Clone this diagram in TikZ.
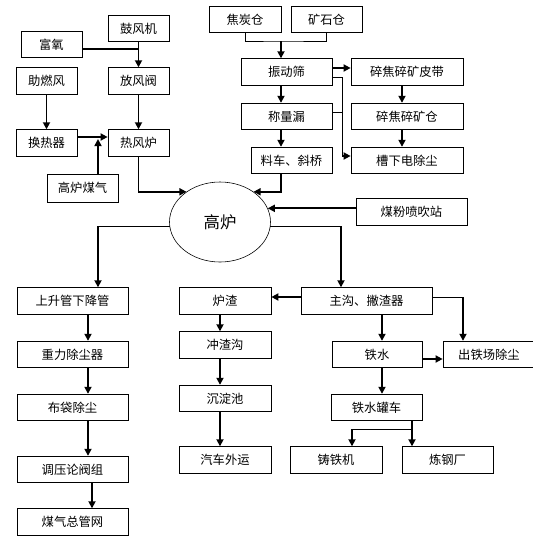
\documentclass[tikz,border=0pt]{standalone}
\usepackage{fontspec}
\newfontfamily\cjk{Noto Sans CJK SC}
\usetikzlibrary{arrows.meta,shapes.geometric}

\tikzset{
  box/.style={draw, line width=0.6pt, inner sep=0pt, minimum height=8mm,
    font=\cjk\fontsize{10.5}{12}\selectfont},
  arr/.style={line width=1.4pt, -{Triangle[length=6pt,width=6pt]}},
  bar/.style={line width=1.4pt},
  fine/.style={line width=0.6pt},
}

\begin{document}
\begin{tikzpicture}[x=0.03cm, y=-0.03cm]
  \useasboundingbox (0,0) rectangle (533,547);
  % hot blast
  \node[box, minimum width=18.3mm] (fuyang) at (51.5,44.5) {富氧};
  \node[box, minimum width=18.3mm] (gufengji) at (138.5,28.5) {鼓风机};
  \node[box, minimum width=18.3mm] (zhuranfeng) at (46.5,81) {助燃风};
  \node[box, minimum width=18.3mm] (fangfengfa) at (138.5,81) {放风阀};
  \node[box, minimum width=18.3mm] (huanreqi) at (46.5,143) {换热器};
  \node[box, minimum width=18.3mm] (refenglu) at (138.5,143) {热风炉};
  \node[box, minimum width=21.3mm, minimum height=8.4mm] (gaolumeiqi) at (82.5,188) {高炉煤气};
  % burden
  \node[box, minimum width=21.6mm] (jiaotan) at (245,19.5) {焦炭仓};
  \node[box, minimum width=21.3mm] (kuangshi) at (326.5,19.5) {矿石仓};
  \node[box, minimum width=27.3mm] (zhendong) at (286.5,72) {振动筛};
  \node[box, minimum width=27.3mm] (chengliang) at (286.5,116.5) {称量漏};
  \node[box, minimum width=24.3mm] (liaoche) at (291.5,160.5) {料车、斜桥};
  \node[box, minimum width=33.6mm] (pidai) at (407,72) {碎焦碎矿皮带};
  \node[box, minimum width=33.6mm] (suicang) at (407,116.5) {碎焦碎矿仓};
  \node[box, minimum width=33.6mm] (caoxia) at (407,160.5) {槽下电除尘};
  % furnace
  \node[draw, ellipse, line width=0.5pt, inner sep=0pt, minimum width=30.3mm,
    minimum height=24mm, font=\cjk\fontsize{14}{16}\selectfont] (gaolu) at (220,222) {高炉};
  \node[box, minimum width=33.3mm] (meifen) at (411.5,212) {煤粉喷吹站};
  % gas
  \node[box, minimum width=33.3mm] (shengjiang) at (72.5,301) {上升管下降管};
  \node[box, minimum width=33.3mm] (zhongli) at (72.5,354.5) {重力除尘器};
  \node[box, minimum width=33.3mm] (budai) at (72.5,407.5) {布袋除尘};
  \node[box, minimum width=33.3mm] (tiaoya) at (72.5,469.5) {调压论阀组};
  \node[box, minimum width=33.3mm] (meiqi) at (72.5,522) {煤气总管网};
  % slag
  \node[box, minimum width=27.6mm] (luzha) at (225,301) {炉渣};
  \node[box, minimum width=27.6mm] (chongzha) at (225,345) {冲渣沟};
  \node[box, minimum width=27.6mm] (chendian) at (225,398.5) {沉淀池};
  \node[box, minimum width=27.6mm] (qiche) at (225,460) {汽车外运};
  % iron
  \node[box, minimum width=39.3mm] (zhugou) at (366.5,301) {主沟、撇渣器};
  \node[box, minimum width=27mm] (tieshui) at (377,354.5) {铁水};
  \node[box, minimum width=27.6mm] (chutie) at (489,354.5) {出铁场除尘};
  \node[box, minimum width=27.3mm] (guanche) at (376.5,407.5) {铁水罐车};
  \node[box, minimum width=27.6mm] (zhutie) at (336,460) {铸铁机};
  \node[box, minimum width=27.3mm] (liangang) at (447.5,460) {炼钢厂};

  % corners and columns
  \coordinate (fy) at (0,49);
  \coordinate (hj) at (98,137);
  \coordinate (jk) at (281,41);
  \coordinate (py) at (0,68);
  \coordinate (sy) at (0,77);
  \coordinate (sc) at (342,156);
  \coordinate (cy) at (0,112);
  \coordinate (pc) at (402,0);
  \coordinate (lc) at (98,0);
  \coordinate (rc) at (341,0);
  \coordinate (gc) at (88,0);
  \coordinate (gd) at (92,0);
  \coordinate (zc) at (220,0);
  \coordinate (tc) at (382,0);
  \coordinate (cc) at (463,297);
  \coordinate (ts) at (0,359);
  \coordinate (lg) at (412,429);
  \coordinate (gz) at (352,429);

  % hot blast lines
  \draw[bar] (fuyang.east |- fy) -- (gufengji.south |- fy);
  \draw[arr] (gufengji.south) -- (fangfengfa.north);
  \draw[arr] (zhuranfeng.south) -- (huanreqi.north);
  \draw[arr] (fangfengfa.south) -- (refenglu.north);
  \draw[arr] (huanreqi.east |- hj) -- (refenglu.west |- hj);
  \draw[arr] (hj |- gaolumeiqi.north) -- ([shift={(0,2)}]hj);
  \draw[arr] (refenglu.south) |- (gaolu.138);

  % burden lines
  \draw[fine] (jiaotan.south) |- (jk) -| (kuangshi.south);
  \draw[arr] (jk) -- (jk |- zhendong.north);
  \draw[arr] (jk |- zhendong.south) -- (jk |- chengliang.north);
  \draw[arr] (jk |- chengliang.south) -- (jk |- liaoche.north);
  \draw[arr] (zhendong.east |- py) -- (pidai.west |- py);
  \draw[fine] (zhendong.east |- sy) -| (sc);
  \draw[fine] (chengliang.east |- cy) -- (sc |- cy);
  \draw[arr] (sc) -- (sc -| caoxia.west);
  \draw[arr] (pc |- pidai.south) -- (pc |- suicang.north);
  \draw[arr] (pc |- suicang.south) -- (pc |- caoxia.north);
  \draw[arr] (jk |- liaoche.south) |- (gaolu.42);
  \draw[arr] (meifen.west |- gaolu.16) -- (gaolu.16);

  % gas lines
  \draw[fine] (gaolu.185) -- (gaolu.185 -| lc);
  \draw[arr] (gaolu.185 -| lc) -- (lc |- shengjiang.north);
  \draw[arr] (gc |- shengjiang.south) -- (gc |- zhongli.north);
  \draw[arr] (gc |- zhongli.south) -- (gc |- budai.north);
  \draw[arr] (gc |- budai.south) -- (gc |- tiaoya.north);
  \draw[arr] (gd |- tiaoya.south) -- (gd |- meiqi.north);

  % slag lines
  \draw[fine] (gaolu.355) -- (gaolu.355 -| rc);
  \draw[arr] (gaolu.355 -| rc) -- (rc |- zhugou.north);
  \draw[arr] (zhugou.west |- cc) -- (luzha.east |- cc);
  \draw[arr] (zc |- luzha.south) -- (zc |- chongzha.north);
  \draw[arr] (zc |- chongzha.south) -- (zc |- chendian.north);
  \draw[arr] (zc |- chendian.south) -- (zc |- qiche.north);

  % iron lines
  \draw[arr] (tc |- zhugou.south) -- (tc |- tieshui.north);
  \draw[fine] (zhugou.east |- cc) -- (cc);
  \draw[arr] (cc) -- (cc |- chutie.north);
  \draw[arr] (tieshui.east |- ts) -- (chutie.west |- ts);
  \draw[arr] (tc |- tieshui.south) -- (tc |- guanche.north);
  \draw[arr, line width=2pt] (lg |- guanche.south) -- (lg |- liangang.north);
  \draw[fine] (lg) -- (gz);
  \draw[arr] (gz) -- (gz |- zhutie.north);
\end{tikzpicture}
\end{document}
